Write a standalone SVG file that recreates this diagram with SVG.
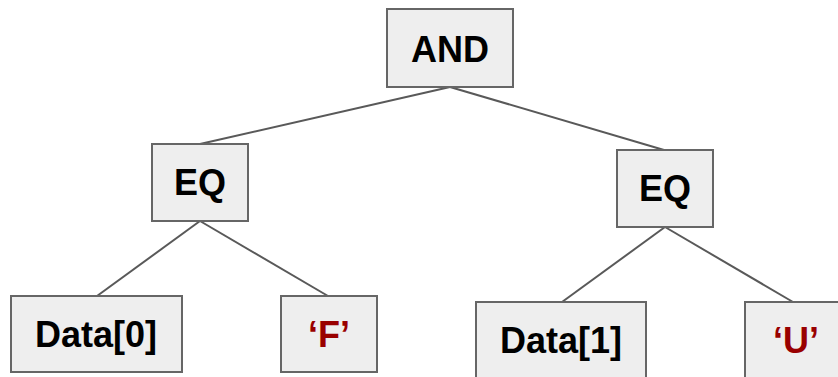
<svg xmlns="http://www.w3.org/2000/svg" width="838" height="377" viewBox="0 0 838 377">
<style>
.box{fill:#eeeeee;stroke:#666666;stroke-width:2}
.t{font-family:"Liberation Sans",Arial,sans-serif;font-weight:bold;font-size:36px;text-anchor:middle;fill:#000000}
.r{fill:#990000}
.c{stroke:#595959;stroke-width:2;fill:none}
</style>
<rect width="838" height="377" fill="#ffffff"/>
<g id="connectors">
<line class="c" x1="450" y1="87" x2="200" y2="144"/>
<line class="c" x1="450" y1="87" x2="664" y2="150"/>
<line class="c" x1="200" y1="221" x2="97" y2="296"/>
<line class="c" x1="200" y1="221" x2="328" y2="296"/>
<line class="c" x1="665" y1="227" x2="562" y2="302"/>
<line class="c" x1="665" y1="227" x2="793" y2="302"/>
</g>
<g id="and"><rect class="box" x="387" y="9" width="126" height="78"/><text class="t" x="450" y="62">AND</text></g>
<g id="eq1"><rect class="box" x="152" y="144" width="96" height="77"/><text class="t" x="200" y="195">EQ</text></g>
<g id="eq2"><rect class="box" x="617" y="150" width="96" height="77"/><text class="t" x="665" y="201">EQ</text></g>
<g id="data0"><rect class="box" x="11" y="296" width="171" height="76"/><text class="t" x="96" y="347">Data[0]</text></g>
<g id="f"><rect class="box" x="281" y="296" width="96" height="76"/><text class="t r" x="329" y="347">‘F’</text></g>
<g id="data1"><rect class="box" x="476" y="302" width="170" height="80"/><text class="t" x="561" y="353">Data[1]</text></g>
<g id="u"><rect class="box" x="745" y="302" width="100" height="80"/><text class="t r" x="796" y="353">‘U’</text></g>
</svg>
